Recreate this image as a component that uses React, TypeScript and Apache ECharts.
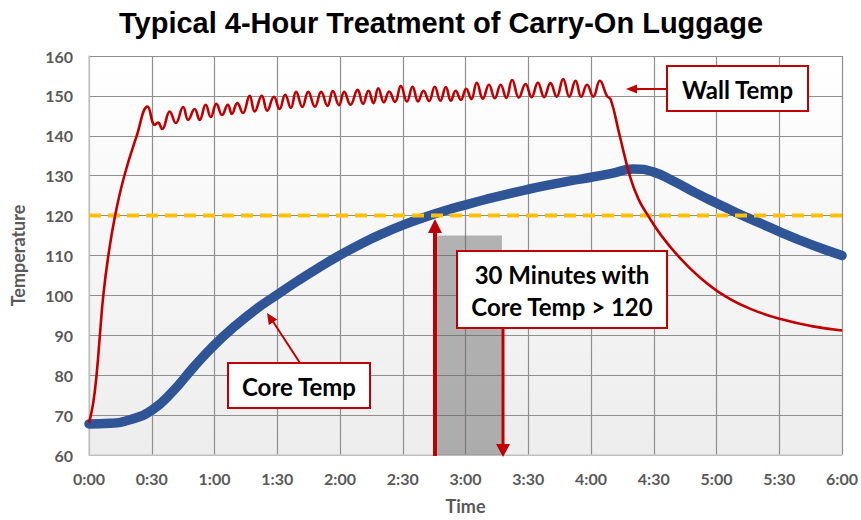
import React, { useEffect, useRef } from "react";
import * as echarts from "echarts";

const chartTitle = "Typical 4-Hour Treatment of Carry-On Luggage";
const xTickLabels = ["0:00", "0:30", "1:00", "1:30", "2:00", "2:30", "3:00", "3:30", "4:00", "4:30", "5:00", "5:30", "6:00"];

const coreMinutes = [0, 10, 20, 30, 40, 50, 60, 70, 80, 90, 100, 110, 120, 130, 140, 150, 160, 170, 180, 190, 200, 210, 220, 230, 240, 250, 260, 270, 280, 290, 300, 310, 320, 330, 340, 350, 360];
const coreTemps = [67.8, 67.95, 68.9, 71.2, 75.9, 82.0, 87.6, 92.4, 96.6, 100.2, 103.7, 107, 110.1, 112.9, 115.4, 117.6, 119.5, 121.2, 122.7, 124.1, 125.4, 126.6, 127.7, 128.7, 129.6, 130.6, 131.7, 130.9, 128.5, 125.7, 123.1, 120.6, 118.3, 116, 113.8, 111.8, 110];

const wallMinutes = [
  0, 2, 3.7, 5.2, 6.8, 9.2, 12.4, 16.8, 22.7, 28,
  31.5, 33, 35, 38.6, 41.5, 45, 47.4, 50.5, 52.9, 55.8, 58.2, 60.9, 63.6, 66.4, 68.3, 70.9, 73.6, 76.8, 79.2, 82.6,
  85.2, 88.4, 91.1, 93.8, 96.5, 99, 102, 104.8, 108, 111, 114, 116.6, 119.5, 122, 125, 128.4, 131, 133.6, 136, 138.3,
  141, 143.5, 146.3, 149.1, 152, 154.7, 157.3, 159.9, 162.6, 165.3, 168, 170.6, 173, 175.3, 177.8, 180.3, 182.8, 185.4,
  188.3, 191.2, 194, 196.8, 199.5, 202.3, 205.5, 208.7, 211.6, 214.6, 217.6, 220.6, 223.6, 226.7, 229.6, 232.6, 235.3,
  238.1, 241.1, 244.2, 247.6, 249.5, 253.5, 258.8, 262.8, 267.5, 273.9, 281.8, 291.4, 304.1, 316.8, 331.1, 345.4, 360
];
const wallTemps = [
  68, 73, 80.5, 90, 99.8, 109.8, 119.8, 129.8, 139.8, 147.3,
  142.7, 143.3, 141.7, 146.1, 143.2, 147.2, 144, 146.7, 144, 147.8, 144.7, 148, 145.2, 147.8, 145.5, 148.2, 145.7, 150, 146.1, 150,
  146.3, 149.8, 146.7, 150.3, 147, 151, 147.2, 151, 147.3, 151, 147.5, 151.2, 147.7, 151, 147.8, 151.5, 148, 151.3, 148.2, 151.9,
  148.4, 151.1, 148.5, 152.5, 148.6, 152.3, 148.6, 151.3, 148.7, 152.3, 148.8, 152.2, 148.8, 151.3, 149, 151.8, 149.2, 153.3,
  149.3, 152.8, 149.4, 152.8, 149.5, 154, 149.6, 153, 149.7, 153.3, 149.7, 153.2, 149.8, 154.2, 149.8, 153.8, 149.8,
  152.8, 149.8, 153.8, 150, 149, 140.5, 129.5, 124, 119.8, 114.8, 109.8, 104.8, 99.8, 96.5, 94, 92.3, 91.2
];

const thresholdTemp = 120;
const windowStart = 165.5;
const windowEnd = 197.4;
const windowTop = 115;

export default function App() {
  const ref = useRef<HTMLDivElement>(null);
  useEffect(() => {
    const chart = echarts.init(ref.current!, null, { renderer: "svg" });
    const red = "#C00000";
    const boxFont = { fontFamily: "Lato", fontWeight: "bold", fontSize: 24, fill: "#000" };
    const option: any = {
      animation: false,
      title: {
        text: chartTitle,
        left: 436,
        textAlign: "center",
        top: 3,
        textStyle: { fontFamily: "Liberation Sans", fontWeight: "bold", fontSize: 29, color: "#000" },
      },
      grid: {
        left: 89, right: 17, top: 56, bottom: 64,
        show: true,
        borderWidth: 0,
        backgroundColor: new echarts.graphic.LinearGradient(0, 0, 0, 1, [
          { offset: 0, color: "#ffffff" },
          { offset: 1, color: "#ededed" },
        ]),
      },
      xAxis: {
        type: "value", min: 0, max: 360, interval: 30,
        name: "Time", nameLocation: "middle", nameGap: 42,
        nameTextStyle: { fontFamily: "Lato", fontWeight: "bold", fontSize: 18, color: "#595959" },
        axisLine: { show: true, lineStyle: { color: "#cfcfcf", width: 1.5 } },
        axisTick: { show: false },
        axisLabel: {
          margin: 15, fontFamily: "Lato", fontWeight: "bold", fontSize: 16, color: "#595959",
          formatter: (v: number) => xTickLabels[Math.round(v / 30)] ?? "",
        },
        splitLine: { show: true, lineStyle: { color: "#8f8f8f", width: 1.2 } },
      },
      yAxis: {
        type: "value", min: 60, max: 160, interval: 10,
        name: "Temperature", nameLocation: "middle", nameGap: 62,
        nameTextStyle: { fontFamily: "Lato", fontWeight: "bold", fontSize: 18, color: "#595959" },
        axisLine: { show: true, lineStyle: { color: "#cfcfcf", width: 1.5 } },
        axisTick: { show: false },
        axisLabel: { margin: 16, fontFamily: "Lato", fontWeight: "bold", fontSize: 16, color: "#595959" },
        splitLine: { show: true, lineStyle: { color: "#8f8f8f", width: 1.2 } },
      },
      series: [
        {
          name: "Core Temp",
          type: "line",
          data: coreMinutes.map((m, i) => [m, coreTemps[i]]),
          smooth: 0.5,
          showSymbol: false,
          lineStyle: { color: "#2F5597", width: 9.5, cap: "round" },
          z: 3,
          markArea: {
            silent: true,
            itemStyle: { color: "rgba(100,100,100,0.47)" },
            data: [[{ coord: [windowStart, 60] }, { coord: [windowEnd, windowTop] }]],
          },
        },
        {
          name: "Threshold",
          type: "line",
          data: [[0, thresholdTemp], [360, thresholdTemp]],
          showSymbol: false,
          lineStyle: { color: "#FFC000", width: 4, type: [12, 7] },
          z: 4,
        },
        {
          name: "Wall Temp",
          type: "line",
          data: wallMinutes.map((m, i) => [m, wallTemps[i]]),
          smooth: 0.45,
          showSymbol: false,
          lineStyle: { color: red, width: 2.6 },
          z: 5,
        },
      ],
      graphic: [
        { type: "line", z: 100, shape: { x1: 435, y1: 456, x2: 435, y2: 230 }, style: { stroke: red, lineWidth: 4 } },
        { type: "polygon", z: 100, shape: { points: [[428, 233], [442, 233], [435, 219]] }, style: { fill: red } },
        { type: "line", z: 100, shape: { x1: 503, y1: 328, x2: 503, y2: 446 }, style: { stroke: red, lineWidth: 3 } },
        { type: "polygon", z: 100, shape: { points: [[496, 444], [510, 444], [503, 457]] }, style: { fill: red } },
        { type: "line", z: 100, shape: { x1: 667, y1: 89, x2: 634, y2: 89 }, style: { stroke: red, lineWidth: 2 } },
        { type: "polygon", z: 100, shape: { points: [[626, 89], [637, 84.5], [637, 93.5]] }, style: { fill: red } },
        { type: "line", z: 100, shape: { x1: 300, y1: 363, x2: 272, y2: 320 }, style: { stroke: red, lineWidth: 2 } },
        { type: "polygon", z: 100, shape: { points: [[267, 313], [277.2, 319.5], [268.8, 325]] }, style: { fill: red } },
        { type: "rect", z: 100, shape: { x: 667, y: 66, width: 141, height: 45 }, style: { fill: "#fff", stroke: red, lineWidth: 2 } },
        { type: "text", z: 101, x: 737.5, y: 89, style: { text: "Wall Temp", align: "center", verticalAlign: "middle", ...boxFont } },
        { type: "rect", z: 100, shape: { x: 457, y: 251, width: 210, height: 77 }, style: { fill: "#fff", stroke: red, lineWidth: 2 } },
        { type: "text", z: 101, x: 562, y: 274, style: { text: "30 Minutes with", align: "center", verticalAlign: "middle", ...boxFont } },
        { type: "text", z: 101, x: 562, y: 306, style: { text: "Core Temp > 120", align: "center", verticalAlign: "middle", ...boxFont } },
        { type: "rect", z: 100, shape: { x: 228, y: 363, width: 142, height: 45 }, style: { fill: "#fff", stroke: red, lineWidth: 2 } },
        { type: "text", z: 101, x: 299, y: 386, style: { text: "Core Temp", align: "center", verticalAlign: "middle", ...boxFont } },
      ],
    };
    chart.setOption(option);
    return () => chart.dispose();
  }, []);
  return <div ref={ref} style={{ position: "absolute", left: 0, top: 0, width: 861, height: 520 }} />;
}
